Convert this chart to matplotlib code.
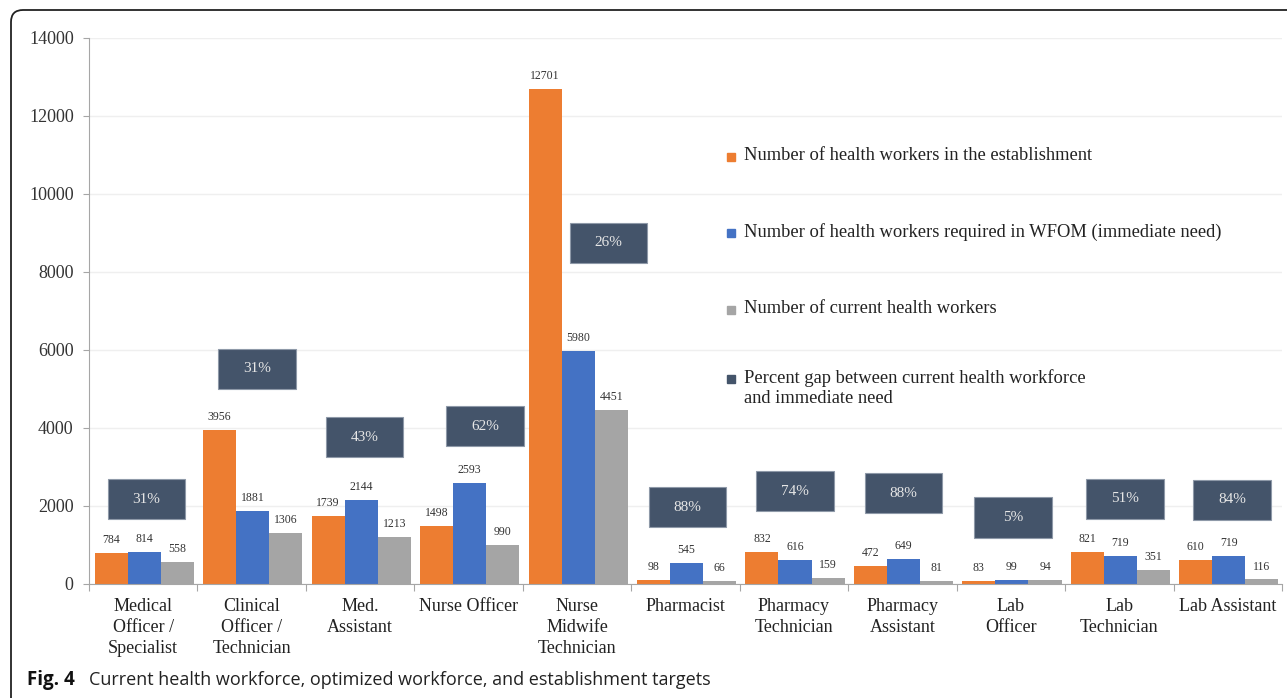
import numpy as np
import matplotlib
matplotlib.use('Agg')
import matplotlib.pyplot as plt
from matplotlib.patches import Rectangle, FancyBboxPatch
from matplotlib.transforms import IdentityTransform

# data
categories = ['Medical\nOfficer /\nSpecialist', 'Clinical\nOfficer /\nTechnician', 'Med.\nAssistant',
              'Nurse Officer', 'Nurse\nMidwife\nTechnician', 'Pharmacist', 'Pharmacy\nTechnician',
              'Pharmacy\nAssistant', 'Lab\nOfficer', 'Lab\nTechnician', 'Lab Assistant']
establishment = [784, 3956, 1739, 1498, 12701, 98, 832, 472, 83, 821, 610]
required = [814, 1881, 2144, 2593, 5980, 545, 616, 649, 99, 719, 719]
current = [558, 1306, 1213, 990, 4451, 66, 159, 81, 94, 351, 116]
gap_pct = [31, 31, 43, 62, 26, 88, 74, 88, 5, 51, 84]

series_names = ['Number of health workers in the establishment',
                'Number of health workers required in WFOM (immediate need)',
                'Number of current health workers',
                'Percent gap between current health workforce\nand immediate need']

# hand placed gap boxes (offset from category centre, box centre height)
box_dx = [0.03, 0.05, 0.04, 0.15, 0.29, 0.02, 0.01, 0.01, 0.02, 0.05, 0.04]
box_yc = [2167, 5513, 3769, 4051, 8756, 1974, 2372, 2333, 1705, 2192, 2154]

colors = ['#ED7D31', '#4472C4', '#A5A5A5', '#44546A']
serif = 'Liberation Serif'
W, H = 1287, 698

fig = plt.figure(figsize=(W / 100, H / 100), dpi=100)
ax = fig.add_axes([89 / W, 114 / H, (1282 - 89) / W, (584 - 38) / H])

x = np.arange(len(categories))
bw = 0.305
for k, vals in enumerate([establishment, required, current]):
    bars = ax.bar(x + 0.01 + (k - 1) * bw, vals, bw, color=colors[k], zorder=2)
    for b, v in zip(bars, vals):
        ax.annotate(str(v), (b.get_x() + b.get_width() / 2, v), xytext=(0, 5),
                    textcoords='offset points', ha='center', va='bottom',
                    fontsize=8.5, family=serif, color='#333333')

# percent gap boxes
for i, p in enumerate(gap_pct):
    cx = i + box_dx[i]
    ax.add_patch(Rectangle((cx - 0.358, box_yc[i] - 513), 0.716, 1026,
                           facecolor=colors[3], edgecolor='#8E99A8', lw=0.8, zorder=3))
    ax.text(cx, box_yc[i], f'{p}%', ha='center', va='center', fontsize=11,
            family=serif, color='#E6E6E6', zorder=4)

ax.set_xlim(-0.5, len(categories) - 0.5)
ax.set_ylim(0, 14000)
ax.set_yticks(range(0, 14001, 2000))
ax.yaxis.grid(True, color='#EFEFEF', lw=1)
ax.set_axisbelow(True)
for s in ['top', 'right']:
    ax.spines[s].set_visible(False)
for s in ['left', 'bottom']:
    ax.spines[s].set_color('#A6A6A6')
ax.tick_params(axis='y', length=4, color='#A6A6A6', labelsize=13, labelcolor='#333333', pad=7)
for t in ax.get_yticklabels():
    t.set_family(serif)

ax.set_xticks(np.arange(len(categories) + 1) - 0.5)
ax.set_xticklabels([])
ax.tick_params(axis='x', which='major', length=5, color='#A6A6A6')
ax.set_xticks(x, minor=True)
ax.set_xticklabels(categories, minor=True, fontsize=13, family=serif, color='#222222',
                   linespacing=1.3)
ax.tick_params(axis='x', which='minor', length=0, pad=10)

# legend drawn by hand to keep the wide spacing
leg_y = [157, 233, 310, 379]
for k, (name, yy) in enumerate(zip(series_names, leg_y)):
    fig.add_artist(Rectangle((727 / W, 1 - (yy + 4) / H), 8 / W, 8 / H,
                             transform=fig.transFigure, color=colors[k]))
    fig.text(744 / W, 1 - (yy - 10) / H, name, ha='left', va='top', fontsize=13.3,
             family=serif, color='#222222', linespacing=1.25)

# figure frame and caption
fig.add_artist(FancyBboxPatch((11, -40), 1400, H - 10 + 40,
                              boxstyle='round,pad=0,rounding_size=12',
                              transform=IdentityTransform(), fill=False,
                              edgecolor='#222222', lw=1.3))
fig.text(27 / W, 1 - 680 / H, 'Fig. 4', ha='left', va='center', fontsize=13.5,
         family='Open Sans', weight='bold', color='#111111')
fig.text(89 / W, 1 - 680 / H, 'Current health workforce, optimized workforce, and establishment targets',
         ha='left', va='center', fontsize=13, family='Open Sans', color='#222222')

fig.savefig('out.png', dpi=100)
